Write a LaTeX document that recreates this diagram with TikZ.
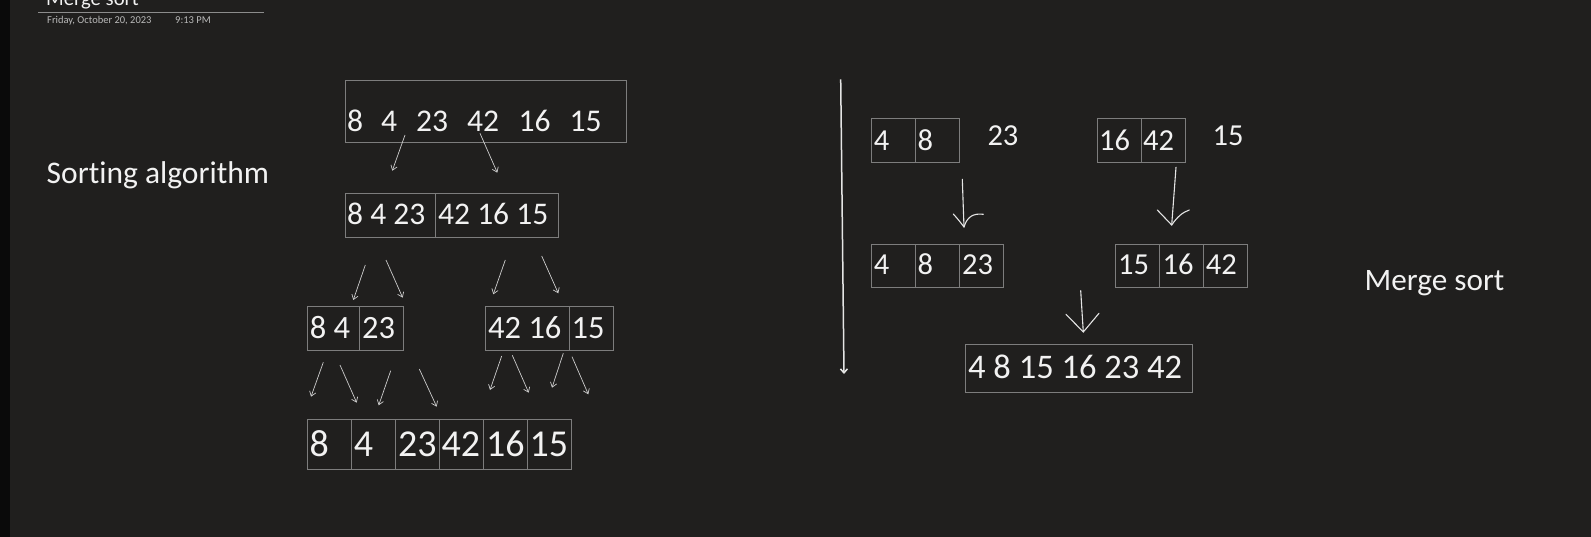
\documentclass[tikz,border=0pt]{standalone}
\usepackage{fontspec}
\setmainfont{Carlito}[Ligatures=NoCommon]
\usetikzlibrary{arrows.meta}
\definecolor{bg}{RGB}{32,31,30}
\definecolor{strip}{RGB}{10,10,10}
\definecolor{boxline}{RGB}{125,125,125}
\definecolor{ink}{RGB}{242,242,242}
\definecolor{arr}{RGB}{205,205,205}
\definecolor{pen}{RGB}{228,228,228}
\definecolor{datecol}{RGB}{185,185,185}
\definecolor{rulecol}{RGB}{140,140,140}
\newcommand\cellbox[5]{\node[cellst, minimum width={(#4-#2)*1pt}, minimum height={(#5-#3)*1pt}] (#1) at (#2,#3) {};}
\newcommand\numtxt[5]{\node[numst, font=\fontsize{#4}{#4}\selectfont] (#1) at (#2,#3) {#5};}
\newcommand\tarrow[3]{\coordinate (#1s) at (#2); \coordinate (#1e) at (#3); \draw[treearrow] (#1s) -- (#1e);}
\begin{document}
\begin{tikzpicture}[x=1pt,y=-1pt,
  cellst/.style={draw=boxline, line width=0.8pt, inner sep=0pt, outer sep=0pt, anchor=north west},
  numst/.style={text=ink, inner sep=0pt, anchor=base west},
  treearrow/.style={draw=arr, line width=0.7pt, -{Straight Barb[length=4.5pt,width=6.5pt]}},
  penline/.style={draw=pen, line width=1.1pt, line cap=round, line join=round}
]
\useasboundingbox (0,0) rectangle (1591,537);
\clip (0,0) rectangle (1591,537);
\fill[bg] (0,0) rectangle (1591,537);
\fill[strip] (0,0) rectangle (10,537);

% header
\node[numst, font=\fontsize{20.7}{20.7}\selectfont] (title) at (46,6) {Merge sort};
\coordinate (rulea) at (38,12.3);
\coordinate (ruleb) at (264,12.3);
\draw[rulecol, line width=0.8pt] (rulea) -- (ruleb);
\node[numst, text=datecol, font=\fontsize{10.5}{10.5}\selectfont] (date) at (47,24) {Friday, October 20, 2023};
\node[numst, text=datecol, font=\fontsize{10.5}{10.5}\selectfont] (time) at (175,24) {9:13 PM};

% labels
\numtxt{sortlbl}{46.5}{183.3}{31.5}{Sorting algorithm}
\numtxt{mergelbl}{1364.5}{290.7}{31.2}{Merge sort}

% top box
\cellbox{T}{345}{80.7}{626.7}{142}
\numtxt{t1}{347}{131.7}{31.6}{8}
\numtxt{t2}{381}{131.7}{31.6}{4}
\numtxt{t3}{416}{131.7}{31.6}{23}
\numtxt{t4}{467}{131.7}{31.6}{42}
\numtxt{t5}{518.5}{131.7}{31.6}{16}
\numtxt{t6}{569.5}{131.7}{31.6}{15}

\tarrow{a1}{405,135}{392.3,170.7}
\tarrow{a2}{480,133.3}{497.3,172.7}

% row 2
\cellbox{A1}{345}{193.3}{435.7}{237.3}
\cellbox{A2}{435.7}{193.3}{558.3}{237.3}
\numtxt{a1t}{347}{225}{31.5}{8 4 23}
\numtxt{a2t}{438}{225}{31.5}{42 16 15}

\tarrow{b1}{365.3,265}{353.3,300}
\tarrow{b2}{386,260}{402.7,297.7}
\tarrow{b3}{505.3,260}{493.3,294.3}
\tarrow{b4}{541.7,256}{558.3,293.3}

% row 3
\cellbox{B1}{307.3}{306.7}{359.3}{350}
\cellbox{B2}{359.3}{306.7}{403.3}{350}
\cellbox{B3}{485.7}{306.7}{569.3}{350}
\cellbox{B4}{569.3}{306.7}{613.3}{350}
\numtxt{b1t}{309.7}{339}{32.5}{8 4}
\numtxt{b2t}{362}{339}{32.5}{23}
\numtxt{b3t}{488}{339}{32.5}{42 16}
\numtxt{b4t}{571.5}{339}{32.5}{15}

\tarrow{c1}{323.3,362.3}{311,396.7}
\tarrow{c2}{340,365}{356.7,402.7}
\tarrow{c3}{390.7,370.7}{378.7,405.3}
\tarrow{c4}{419.3,369}{436.7,406.7}
\tarrow{c5}{501.7,356}{490,390}
\tarrow{c6}{512.3,355.3}{528.7,392.7}
\tarrow{c7}{563.3,353.3}{552,387.7}
\tarrow{c8}{572,356.7}{588.3,394.3}

% bottom row
\cellbox{C1}{307.3}{419.3}{351.7}{469.3}
\cellbox{C2}{351.7}{419.3}{395.7}{469.3}
\cellbox{C3}{395.7}{419.3}{439.3}{469.3}
\cellbox{C4}{439.3}{419.3}{483.7}{469.3}
\cellbox{C5}{483.7}{419.3}{527.7}{469.3}
\cellbox{C6}{527.7}{419.3}{571.7}{469.3}
\numtxt{c1t}{309.5}{456.7}{38}{8}
\numtxt{c2t}{353.7}{456.7}{38}{4}
\numtxt{c3t}{398}{456.7}{38}{23}
\numtxt{c4t}{441.3}{456.7}{38}{42}
\numtxt{c5t}{486}{456.7}{38}{16}
\numtxt{c6t}{529.5}{456.7}{38}{15}

% vertical separator
\coordinate (vs) at (840.7,79.3);
\coordinate (ve) at (844,374);
\draw[draw=pen, line width=1.5pt, -{Straight Barb[length=4pt,width=7pt]}] (vs) -- (ve);

% right: merge step 1
\cellbox{D1}{871.3}{118.3}{915.7}{162.3}
\cellbox{D2}{915.7}{118.3}{959.3}{162.3}
\numtxt{d1t}{873.7}{151}{30.5}{4}
\numtxt{d2t}{917.3}{151}{30.5}{8}
\numtxt{d3t}{987.3}{146}{30.5}{23}

\cellbox{E1}{1097.3}{118.3}{1141.3}{162.3}
\cellbox{E2}{1141.3}{118.3}{1185.7}{162.3}
\numtxt{e1t}{1099}{151}{30.5}{16}
\numtxt{e2t}{1143}{151}{30.5}{42}
\numtxt{e3t}{1212.5}{146}{30.5}{15}

% hand arrows
\coordinate (h1s) at (962.3,179.3);
\coordinate (h1e) at (964,227);
\coordinate (h1l) at (953.3,214);
\coordinate (h1r) at (983.3,214.3);
\draw[penline] (h1s) -- (h1e);
\draw[penline] (h1l) .. controls (957,218) and (961,223) .. (h1e) .. controls (967,217) and (973,213) .. (h1r);

\coordinate (h2s) at (1176,167.3);
\coordinate (h2e) at (1171.7,225);
\coordinate (h2l) at (1157.3,210);
\coordinate (h2r) at (1189.3,210);
\draw[penline] (h2s) -- (h2e);
\draw[penline] (h2l) -- (h2e) .. controls (1177,217) and (1183,212) .. (h2r);

% right: merge step 2
\cellbox{F1}{871.3}{244.3}{915.7}{287.3}
\cellbox{F2}{915.7}{244.3}{959.7}{287.3}
\cellbox{F3}{959.7}{244.3}{1003.3}{287.3}
\numtxt{f1t}{873.7}{275}{30.5}{4}
\numtxt{f2t}{917.3}{275}{30.5}{8}
\numtxt{f3t}{962}{275}{30.5}{23}

\cellbox{G1}{1115.7}{244.3}{1159.7}{287.3}
\cellbox{G2}{1159.7}{244.3}{1203.7}{287.3}
\cellbox{G3}{1203.7}{244.3}{1247.3}{287.3}
\numtxt{g1t}{1118}{275}{30.5}{15}
\numtxt{g2t}{1162.5}{275}{30.5}{16}
\numtxt{g3t}{1205.7}{275}{30.5}{42}

\coordinate (h3s) at (1080.7,290.7);
\coordinate (h3e) at (1083.3,332);
\coordinate (h3l) at (1066,314.3);
\coordinate (h3r) at (1099,313.3);
\draw[penline] (h3s) -- (h3e);
\draw[penline] (h3l) -- (h3e) -- (h3r);

% final
\cellbox{H}{965.7}{344.3}{1192.7}{392.3}
\numtxt{ht}{968}{379}{34.5}{4 8 15 16 23 42}
\end{tikzpicture}
\end{document}
